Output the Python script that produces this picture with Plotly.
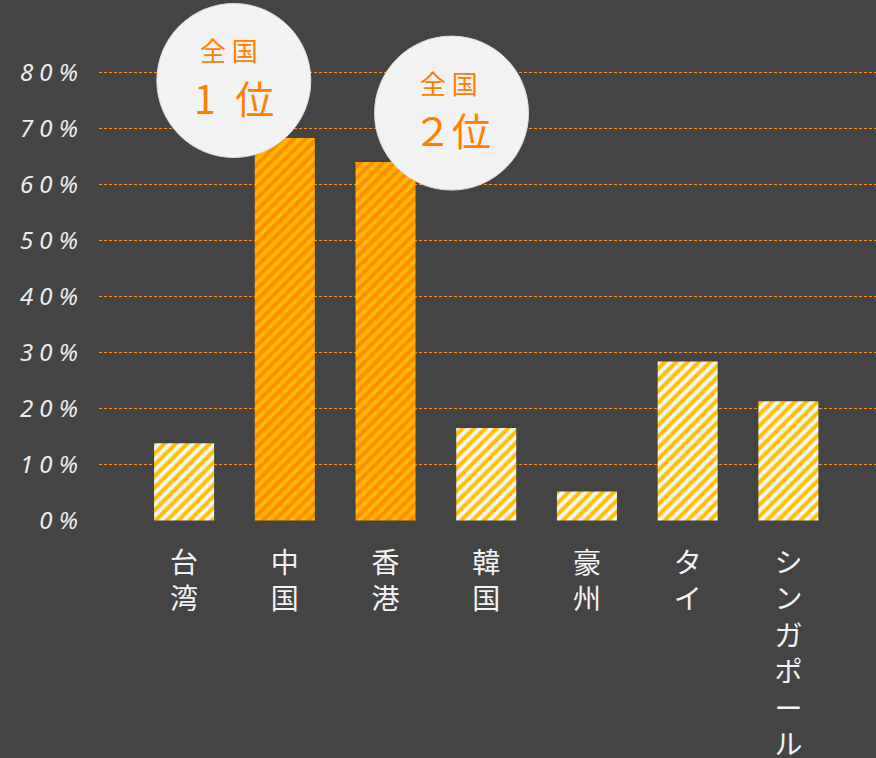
import plotly.graph_objects as go

categories = ["台湾", "中国", "香港", "韓国", "豪州", "タイ", "シンガポール"]
values = [13.8, 68.3, 64.0, 16.5, 5.2, 28.4, 21.3]
highlight = [False, True, True, False, False, False, False]
y_tickvals = [0, 10, 20, 30, 40, 50, 60, 70, 80]
y_ticktext = ["0 %", "1 0 %", "2 0 %", "3 0 %", "4 0 %", "5 0 %", "6 0 %", "7 0 %", "8 0 %"]
badge_top = ["全 国", "全 国"]
badge_bottom = ["1\u2002位", "２位"]
badge_cat = [1, 2]
badge_y = [78.57, 72.75]
badge_xshift = [-51, 66]
badge_top_dx = [-5, -3]

BG = "#444444"
ORANGE_TXT = "#ff8000"

x_idx = list(range(len(categories)))
x_ticktext = ["<br>".join(list(c)) for c in categories]

fig = go.Figure()
groups = [
    (False, "#f4f4f4", "#ffc000"),
    (True, "#ff8c00", "#ffb800"),
]
for flag, bg_col, fg_col in groups:
    xs = [x for x, h in zip(x_idx, highlight) if h == flag]
    ys = [v for v, h in zip(values, highlight) if h == flag]
    fig.add_trace(go.Bar(
        x=xs, y=ys,
        width=0.596,
        marker=dict(
            color=bg_col,
            line=dict(width=0),
            pattern=dict(shape="/", fgcolor=fg_col, bgcolor=bg_col, fgopacity=1,
                         size=8, solidity=0.5, fillmode="overlay"),
        ),
        hoverinfo="skip",
    ))

shapes = []
annotations = []
for i in range(len(badge_cat)):
    shapes.append(dict(
        type="circle", xref="x", yref="y",
        xsizemode="pixel", ysizemode="pixel",
        xanchor=badge_cat[i], yanchor=badge_y[i],
        x0=badge_xshift[i] - 77, x1=badge_xshift[i] + 77,
        y0=-77, y1=77,
        fillcolor="#f2f2f2", line=dict(color="#dcdcdc", width=1),
        layer="above",
    ))
    annotations.append(dict(
        x=badge_cat[i], y=badge_y[i], xref="x", yref="y",
        xshift=badge_xshift[i] + badge_top_dx[i], yshift=31,
        text=badge_top[i], showarrow=False,
        font=dict(family="Noto Sans CJK JP", size=26, color=ORANGE_TXT),
    ))
    annotations.append(dict(
        x=badge_cat[i], y=badge_y[i], xref="x", yref="y",
        xshift=badge_xshift[i], yshift=-16,
        text=badge_bottom[i], showarrow=False,
        font=dict(family="Noto Sans CJK JP", size=39, color=ORANGE_TXT),
    ))

fig.update_layout(
    width=876, height=758,
    paper_bgcolor=BG, plot_bgcolor=BG,
    margin=dict(l=99, r=0, t=0, b=237, autoexpand=False),
    showlegend=False,
    barmode="overlay",
    shapes=shapes,
    annotations=annotations,
    xaxis=dict(
        range=[-0.845, 6.87],
        tickmode="array",
        tickvals=x_idx,
        ticktext=x_ticktext,
        tickfont=dict(family="Noto Sans CJK JP", size=28, color="#f2f2f2"),
        showgrid=False, zeroline=False, showline=False, ticks="",
        ticklabelstandoff=23,
        automargin=False,
        fixedrange=True,
    ),
    yaxis=dict(
        range=[-0.0893, 92.947],
        tickmode="array",
        tickvals=y_tickvals,
        ticktext=y_ticktext,
        tickfont=dict(family="Noto Sans", size=24, color="#ececec", style="italic"),
        showgrid=True, gridcolor="#ff8c1a", griddash="3px,2px", gridwidth=1,
        zeroline=False, showline=False, ticks="",
        ticklabelstandoff=20,
        automargin=False,
        fixedrange=True,
    ),
)

fig.write_html(
    "out.html",
    config={"displayModeBar": False},
    post_script="document.body.style.margin='0';document.body.style.background='#444444';",
)
